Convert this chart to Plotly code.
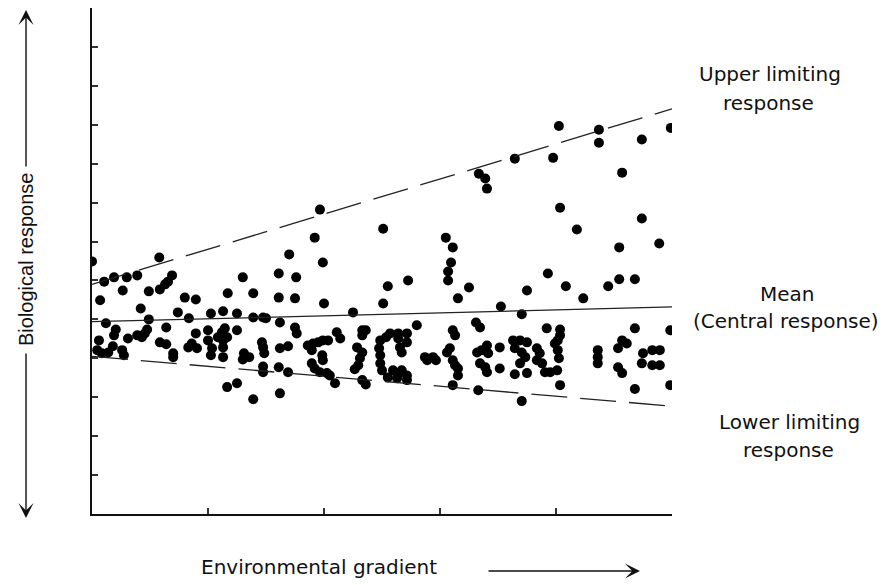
import plotly.graph_objects as go

# Environmental gradient position (0-100) and biological response (0-130)
gradient = [
    0.0, 11.6, 34.0, 2.1, 3.8, 6.0, 7.8, 5.3, 1.4, 9.8, 11.7, 12.6, 13.1, 13.8,
    8.4, 9.8, 16.0, 17.9, 14.8, 16.7, 12.8, 2.4, 4.1, 3.8, 1.2, 0.9, 1.7, 2.8,
    3.6, 5.2, 5.5, 6.2, 7.8, 8.6, 9.1, 9.5, 11.7, 12.8, 14.0, 14.0, 16.6, 17.2,
    18.1, 17.9, 20.0, 20.5, 22.6, 23.4, 25.0, 26.0, 27.8, 20.0, 20.7, 20.5, 21.7,
    22.4, 22.9, 22.6, 22.6, 22.6, 23.3, 25.0, 26.2, 26.0, 27.1, 27.8, 29.5, 30.0,
    29.3, 29.5, 29.7, 32.2, 32.2, 32.4, 32.4, 33.8, 29.5, 29.5, 32.2, 33.8, 23.3,
    25.0, 27.8, 32.4,
    39.3, 50.2, 38.4, 39.8, 35.2, 51.0, 54.5, 61.0, 62.2, 61.9, 61.4, 61.4, 65.0,
    66.7,
    35.0, 40.0, 63.1, 50.2, 45.0, 35.0, 35.3, 37.2, 38.1, 39.0, 39.8, 40.7, 37.9,
    39.7, 39.8, 37.9, 38.4, 39.3, 40.5, 41.0, 41.9, 42.2, 42.8, 45.7, 46.6, 46.2,
    45.9, 45.3, 46.6, 47.2, 46.6, 47.2, 46.6, 49.7, 49.5, 49.7, 49.7, 50.0, 51.0,
    50.7, 51.4, 52.8, 54.3, 52.8, 54.3, 53.1, 53.4, 51.9, 52.8, 53.4, 54.3, 52.6,
    54.3, 56.0, 57.4, 57.8, 58.8, 59.3, 61.2, 61.7, 62.2, 62.6, 62.2, 62.6, 63.1,
    63.1, 62.2, 66.2, 66.4, 66.6,
    80.5, 87.4, 87.4, 94.8, 99.8, 72.9, 79.5, 67.8, 68.1, 91.4, 80.7, 83.6, 94.8,
    90.9, 97.8, 75.0, 78.6, 81.7, 84.7, 89.0, 90.9, 93.6, 70.5, 74.1, 66.9, 78.4,
    80.7, 80.7, 80.3, 79.8, 93.6, 99.7, 68.1, 67.2, 68.3, 70.3, 66.9, 67.8, 68.1,
    70.3, 72.6, 73.8, 75.0, 72.9, 74.1, 74.7, 73.8, 76.7, 77.2, 76.7, 77.6, 80.3,
    80.5, 80.2, 79.0, 78.1, 72.9, 75.0, 80.7, 87.2, 87.2, 87.2, 91.4, 90.7, 92.2,
    90.7, 91.4, 95.0, 94.8, 96.6, 97.9, 96.6, 97.9, 74.1, 93.6, 99.7,
]
response = [
    64.9, 65.9, 66.7, 59.7, 60.8, 60.8, 61.3, 57.4, 54.9, 57.2, 57.7, 59.0, 59.7, 61.3,
    52.8, 50.0, 55.6, 55.1, 51.8, 50.3, 47.9, 49.0, 47.4, 45.9, 44.6, 42.1, 41.3, 41.5,
    43.1, 42.1, 40.8, 45.1, 45.9, 45.4, 46.4, 47.4, 44.1, 43.6, 41.3, 40.3, 42.8, 43.8,
    42.6, 46.4, 47.2, 51.5, 52.1, 56.7, 51.5, 60.8, 56.7, 44.6, 42.6, 40.8, 45.4,
    46.7, 47.7, 44.6, 42.8, 40.3, 45.4, 47.2, 41.3, 39.7, 40.3, 50.5, 50.5, 50.3,
    44.1, 42.8, 41.3, 61.8, 55.6, 49.2, 42.6, 43.1, 37.9, 36.4, 37.7, 36.4, 32.6,
    33.6, 29.5, 31.0,
    78.2, 73.3, 71.0, 64.6, 60.8, 58.5, 60.0, 71.0, 68.5, 64.6, 62.3, 60.0, 58.2,
    87.4,
    55.4, 54.1, 55.4, 54.1, 51.8, 47.9, 46.4, 43.3, 43.8, 44.1, 44.6, 44.6, 42.1,
    40.8, 39.5, 38.7, 37.4, 36.4, 36.2, 35.6, 33.6, 46.7, 45.1, 42.8, 41.5, 40.0,
    38.2, 37.2, 34.4, 33.3, 47.2, 47.2, 45.9, 44.6, 42.6, 40.8, 38.7, 36.9, 35.1,
    45.4, 46.4, 46.4, 46.4, 45.1, 44.1, 42.8, 41.5, 36.9, 36.2, 36.9, 35.6, 34.9,
    34.4, 48.5, 40.3, 39.5, 40.3, 39.5, 41.5, 42.6, 47.2, 45.9, 39.5, 38.2, 37.4,
    35.6, 33.1, 49.2, 41.5, 31.8,
    99.7, 98.7, 95.4, 96.2, 99.2, 91.3, 91.5, 86.2, 83.6, 87.7, 78.7, 73.1, 75.9,
    68.5, 69.5, 57.4, 61.8, 58.5, 55.4, 58.5, 60.3, 60.3, 53.3, 51.3, 47.9, 47.7,
    47.4, 45.9, 44.6, 43.8, 47.7, 47.2, 43.3, 42.1, 41.3, 42.8, 38.7, 37.7, 36.4,
    37.4, 44.6, 44.6, 44.1, 42.6, 41.5, 40.3, 38.7, 42.6, 41.3, 39.5, 38.7, 42.1,
    40.0, 36.9, 36.4, 36.4, 35.9, 36.2, 33.1, 42.1, 40.3, 38.7, 44.6, 42.6, 43.8,
    37.7, 36.2, 41.3, 38.7, 42.1, 42.1, 38.2, 38.2, 29.0, 32.1, 33.1,
]

line_x = [0, 100]
upper_limit = [59.0, 104.1]
central = [49.4, 53.2]
lower_limit = [40.5, 27.7]

fig = go.Figure()
fig.add_trace(go.Scatter(x=gradient, y=response, mode="markers",
                         marker=dict(size=10, color="#000000"), hoverinfo="skip"))
fig.add_trace(go.Scatter(x=line_x, y=upper_limit, mode="lines",
                         line=dict(color="#222222", width=1.3, dash="36px,13px")))
fig.add_trace(go.Scatter(x=line_x, y=central, mode="lines",
                         line=dict(color="#222222", width=1.3)))
fig.add_trace(go.Scatter(x=line_x, y=lower_limit, mode="lines",
                         line=dict(color="#222222", width=1.3, dash="36px,13px")))

# the page body adds an 8px offset; figure sized so everything fits the window
OFF = 8
FW, FH = 880, 577
PL, PT, PW, PH = 92 - OFF, 0, 580, 506


def px(xp):
    return (xp - OFF - PL) / PW


def py(yp):
    return (PT + PH - (yp - OFF)) / PH


hfont = dict(family="DejaVu Sans", size=20, color="#111111")
vfont = dict(family="Liberation Sans, Arial", size=20, color="#111111")

labels = [
    ("Upper limiting", 770, 74),
    ("response", 768, 103),
    ("Mean", 787, 294),
    ("(Central response)", 786, 321),
    ("Lower limiting", 789, 422),
    ("response", 788, 450),
    ("Environmental gradient", 319, 567),
]
annotations = []
for t, xx, yy in labels:
    annotations.append(dict(text=t, x=px(xx), y=py(yy), xref="paper", yref="paper",
                            xanchor="center", yanchor="middle", showarrow=False,
                            font=hfont))
annotations.append(dict(text="Biological response", x=px(26), y=py(260),
                        xref="paper", yref="paper", textangle=-90,
                        xanchor="center", yanchor="middle", showarrow=False,
                        font=vfont))
arrow_style = dict(showarrow=True, arrowhead=3, arrowsize=1.8, arrowwidth=1.4,
                   arrowcolor="#111111", text="", xref="paper", yref="paper")
annotations.append(dict(x=px(640), y=py(571), ax=-153, ay=0, **arrow_style))
annotations.append(dict(x=px(26), y=py(10), ax=0, ay=158, **arrow_style))
annotations.append(dict(x=px(26), y=py(518), ax=0, ay=-166, **arrow_style))

axis_common = dict(showgrid=False, zeroline=False, showticklabels=False,
                   showline=True, linecolor="#111111", linewidth=2,
                   ticks="inside", ticklen=6, tickwidth=1.5, tickcolor="#333333")

fig.update_layout(
    width=FW, height=FH,
    margin=dict(l=PL, r=FW - PL - PW, t=PT, b=FH - PT - PH, pad=0),
    paper_bgcolor="white", plot_bgcolor="white",
    showlegend=False,
    xaxis=dict(range=[0, 100], dtick=20, tick0=0, **axis_common),
    yaxis=dict(range=[0, 130], dtick=10, tick0=0, **axis_common),
    annotations=annotations,
)

fig.write_html("out.html")
